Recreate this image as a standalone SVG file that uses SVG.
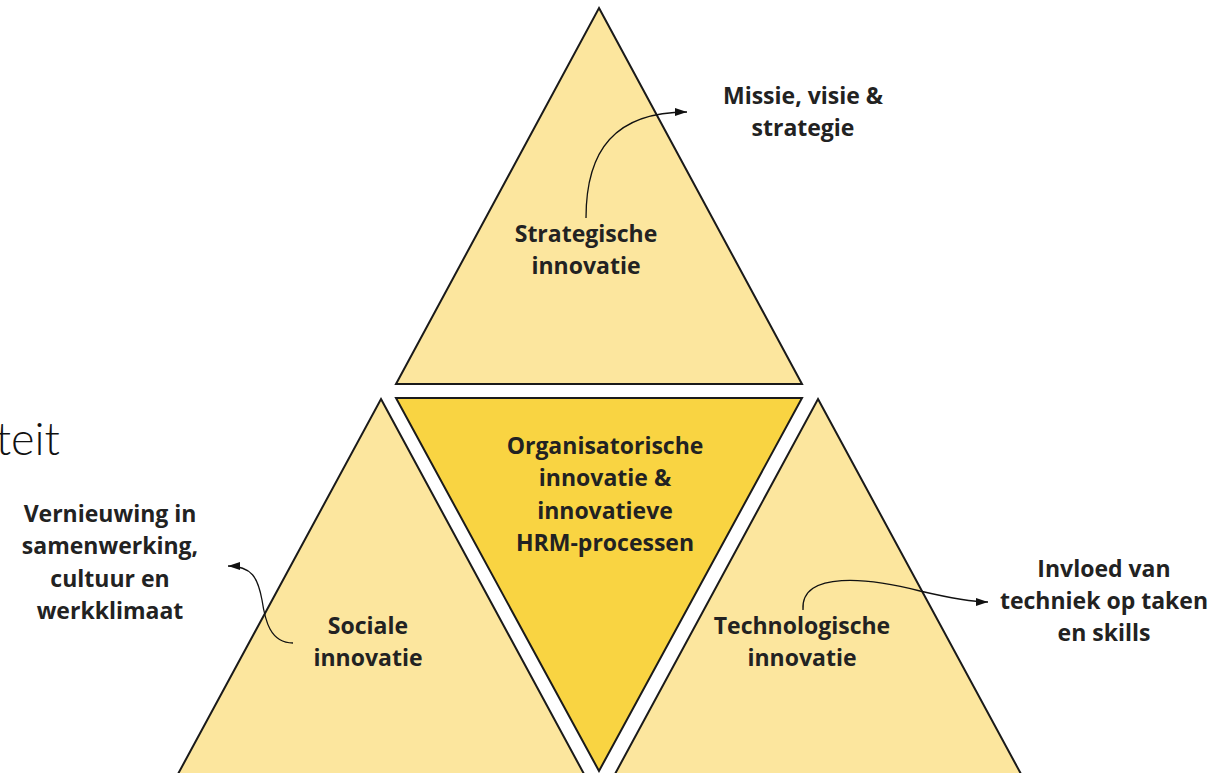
<svg xmlns="http://www.w3.org/2000/svg" width="1214" height="773" viewBox="0 0 1214 773">
<defs>
<style>
.tri{fill:#FCE69E;stroke:#1a1a1a;stroke-width:2;stroke-linejoin:miter}
.mid{fill:#F9D442;stroke:#1a1a1a;stroke-width:2}
.lbl{font-family:"Open Sans","Noto Sans",sans-serif;font-weight:700;font-size:23px;fill:#222;text-anchor:middle}
.con{fill:none;stroke:#111;stroke-width:1.3}
</style>
<marker id="ah" viewBox="0 0 12 8" refX="12" refY="4" markerWidth="12" markerHeight="8" markerUnits="userSpaceOnUse" orient="auto">
<path d="M0,0 L12,4 L0,8 Z" fill="#111"/>
</marker>
</defs>
<rect width="1214" height="773" fill="#fff"/>
<text x="60" y="455" font-family="Lato,sans-serif" font-weight="300" font-size="45" fill="#111" text-anchor="end">teit</text>
<g id="strategic">
<polygon class="tri" points="599,8 802,384 396,384"/>
<text class="lbl" x="586" y="242">Strategische</text>
<text class="lbl" x="586" y="274">innovatie</text>
</g>
<g id="organisational">
<polygon class="mid" points="396,398 802,398 599,771"/>
<text class="lbl" x="605" y="454">Organisatorische</text>
<text class="lbl" x="605" y="486">innovatie &amp;</text>
<text class="lbl" x="605" y="519">innovatieve</text>
<text class="lbl" x="605" y="551">HRM-processen</text>
</g>
<g id="social">
<polygon class="tri" points="381,399 584,774 178,774"/>
<text class="lbl" x="368" y="634">Sociale</text>
<text class="lbl" x="368" y="666">innovatie</text>
</g>
<g id="technological">
<polygon class="tri" points="818,399 1021,774 615,774"/>
<text class="lbl" x="802" y="634">Technologische</text>
<text class="lbl" x="802" y="666">innovatie</text>
</g>
<g id="missie">
<text class="lbl" x="803" y="104">Missie, visie &amp;</text>
<text class="lbl" x="803" y="136">strategie</text>
</g>
<g id="vernieuwing">
<text class="lbl" x="110" y="522">Vernieuwing in</text>
<text class="lbl" x="110" y="554">samenwerking,</text>
<text class="lbl" x="110" y="587">cultuur en</text>
<text class="lbl" x="110" y="619">werkklimaat</text>
</g>
<g id="invloed">
<text class="lbl" x="1104" y="577">Invloed van</text>
<text class="lbl" x="1104" y="609">techniek op taken</text>
<text class="lbl" x="1104" y="641">en skills</text>
</g>
<g id="connectors">
<path class="con" marker-end="url(#ah)" d="M586,218 C586,150 615,112 687,112"/>
<path class="con" marker-end="url(#ah)" d="M803,610 C800,570 870,578 920,591 C950,598 970,602 988,602"/>
<path class="con" marker-end="url(#ah)" d="M293,643 C270,643 265,620 262,600 C258,578 252,566 228,566"/>
</g>
</svg>
